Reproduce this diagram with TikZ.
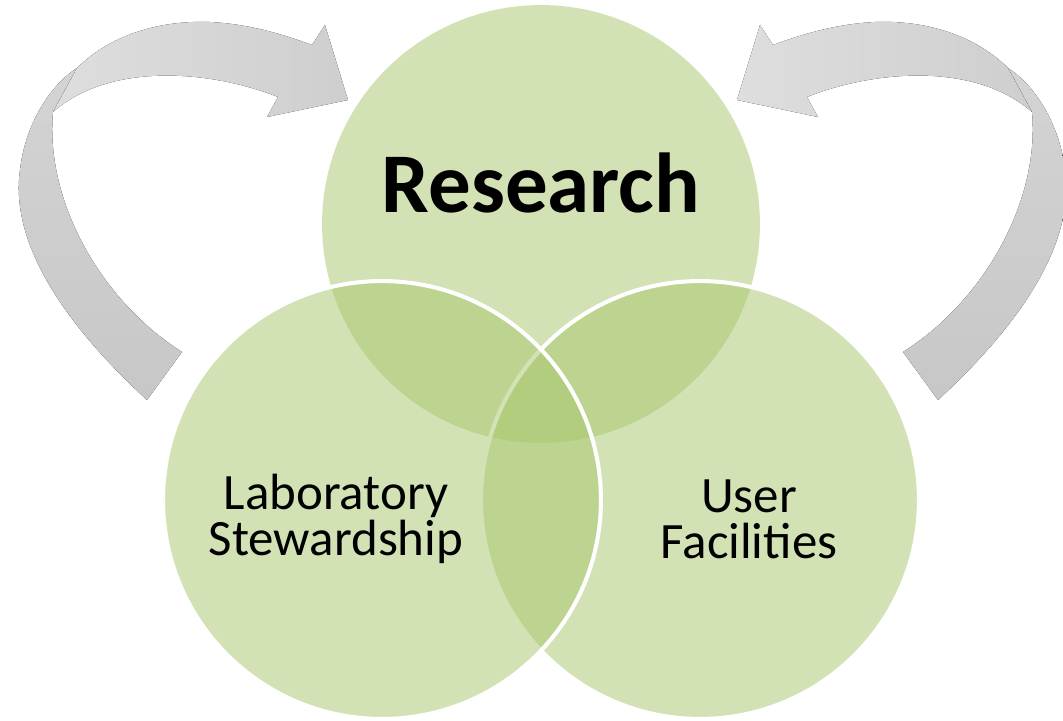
\documentclass[tikz,border=0pt]{standalone}
\usepackage{fontspec}
\setmainfont{Carlito}
\definecolor{ringgreen}{RGB}{167,198,107}

\begin{document}
\begin{tikzpicture}[x=0.02cm, y=-0.02cm]
    \tikzset{RingStyle/.style={circle, minimum size=8.76cm, inner sep=0pt, fill=ringgreen, fill opacity=0.5}}
    \tikzset{EdgeRing/.style={RingStyle, draw=white, line width=2.3pt}}
    \tikzset{LabelStyle/.style={font=\fontsize{29}{26.2}\selectfont, align=center, inner sep=0pt}}
    \useasboundingbox (0,0) rectangle (1063,721);

    % curved arrows, right one mirrored
    \foreach \flip/\sx in {0/1, 1085/-1}{
      \begin{scope}[shift={(\flip,0)}, xscale=\sx]
        \fill[top color=gray!34, bottom color=gray!44]
          (147,400) .. controls (60,320) and (10,240) .. (20,170)
          .. controls (25,125) and (50,85) .. (77,68)
          -- (53,112) .. controls (45,200) and (100,300) .. (182,352) -- cycle;
        \fill[left color=gray!26, right color=gray!38]
          (77,68) .. controls (110,35) and (160,20) .. (210,22)
          .. controls (250,24) and (285,35) .. (312,45)
          -- (325,25) -- (348,100) -- (267,117) -- (278,97)
          .. controls (210,70) and (110,62) .. (53,112) -- cycle;
      \end{scope}
    }

    \node[RingStyle] (R) at (541,224) {};
    \node[EdgeRing] (U) at (700,500) {};
    \node[EdgeRing] (L) at (382,500) {};

    \node[font=\fontsize{48.4}{58}\selectfont\bfseries, anchor=base, inner sep=0pt] (tR) at (541,212) {Research};
    \node[LabelStyle] (tL) at (336,519) {Laboratory\\Stewardship};
    \node[LabelStyle] (tU) at (749,519) {User\\Facilities};
\end{tikzpicture}
\end{document}
